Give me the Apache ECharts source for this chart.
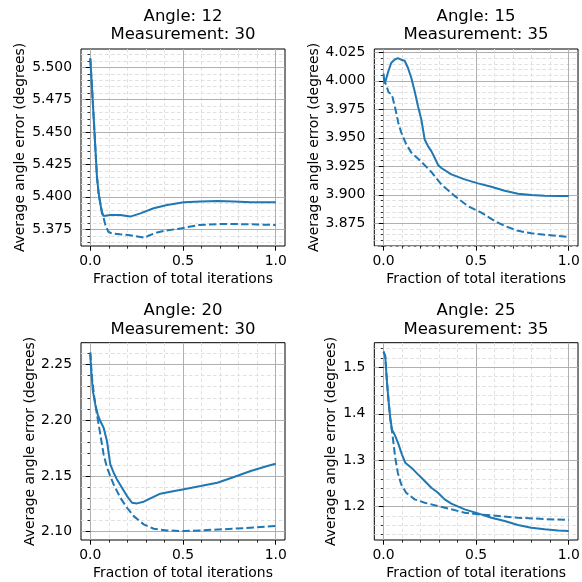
<!DOCTYPE html>
<html>
<head>
<meta charset="utf-8">
<script src="https://cdn.jsdelivr.net/npm/echarts@6/dist/echarts.min.js"></script>
<style>html,body{margin:0;padding:0;background:#fff}#c{width:582px;height:582px}</style>
</head>
<body>
<div id="c"></div>
<script>
// ---- data ----
const titles = ["Angle: 12\nMeasurement: 30", "Angle: 15\nMeasurement: 35", "Angle: 20\nMeasurement: 30", "Angle: 25\nMeasurement: 35"];
const xLabel = "Fraction of total iterations";
const yLabel = "Average angle error (degrees)";
const xTicks = [0.0, 0.5, 1.0];

const p1SolidX = [0, .009, .018, .027, .036, .045, .054, .063, .072, .108, .162, .216, .27, .342, .414, .505, .595, .685, .775, .865, 1.0];
const p1SolidY = [5.5069, 5.4851, 5.4619, 5.4388, 5.4156, 5.4028, 5.3951, 5.3873, 5.3853, 5.386, 5.386, 5.3848, 5.3873, 5.3912, 5.3938, 5.3958, 5.3964, 5.3969, 5.3964, 5.3958, 5.3958];
const p1DashX = [0, .009, .018, .027, .036, .045, .054, .063, .08, .097, .115, .16, .205, .296, .313, .36, .403, .494, .584, .692, .80, .9, 1.0];
const p1DashY = [5.5069, 5.4851, 5.4619, 5.4388, 5.4156, 5.4028, 5.3951, 5.389, 5.379, 5.3731, 5.3719, 5.3712, 5.3706, 5.3685, 5.3700, 5.3725, 5.3739, 5.3758, 5.3783, 5.379, 5.379, 5.3787, 5.3783];
const p1YTicks = [5.375, 5.400, 5.425, 5.450, 5.475, 5.500];

const p2SolidX = [0, .005, .01, .023, .041, .059, .077, .095, .114, .132, .15, .168, .186, .204, .222, .24, .258, .276, .294, .312, .366, .438, .51, .582, .654, .726, .798, .87, .942, 1.0];
const p2SolidY = [4.0065, 3.9975, 3.9995, 4.0069, 4.0157, 4.0186, 4.0200, 4.0186, 4.0177, 4.0113, 4.0025, 3.9909, 3.9777, 3.9661, 3.9485, 3.9427, 3.9383, 3.9325, 3.9262, 3.9235, 3.9179, 3.9135, 3.910, 3.9071, 3.9035, 3.9008, 3.8997, 3.8991, 3.8989, 3.8989];
const p2DashX = [0, .008, .015, .027, .045, .063, .08, .095, .108, .122, .15, .204, .258, .312, .384, .456, .528, .6, .654, .726, .798, .87, .942, 1.0];
const p2DashY = [4.003, 3.999, 3.996, 3.990, 3.988, 3.976, 3.963, 3.955, 3.950, 3.9445, 3.937, 3.929, 3.920, 3.909, 3.899, 3.890, 3.8843, 3.877, 3.8727, 3.8683, 3.8662, 3.8648, 3.8639, 3.863];
const p2YTicks = [3.875, 3.900, 3.925, 3.950, 3.975, 4.000, 4.025];

const p3SolidX = [0, .004, .014, .027, .04, .054, .072, .09, .108, .126, .144, .171, .198, .225, .252, .288, .324, .378, .432, .505, .595, .685, .775, .865, .955, 1.0];
const p3SolidY = [2.2605, 2.247, 2.226, 2.2141, 2.2052, 2.1992, 2.1932, 2.1813, 2.1604, 2.1529, 2.1469, 2.1394, 2.132, 2.126, 2.1254, 2.1269, 2.1299, 2.1341, 2.1359, 2.138, 2.1409, 2.1439, 2.149, 2.1544, 2.1589, 2.161];
const p3DashX = [0, .009, .022, .036, .054, .072, .09, .126, .162, .198, .234, .288, .342, .414, .505, .595, .775, 1.0];
const p3DashY = [2.2605, 2.238, 2.2201, 2.2052, 2.1873, 2.1693, 2.1574, 2.1424, 2.1305, 2.1215, 2.114, 2.1066, 2.1027, 2.1012, 2.1006, 2.1012, 2.1027, 2.1051];
const p3YTicks = [2.10, 2.15, 2.20, 2.25];

const p4SolidX = [0, .009, .018, .027, .036, .045, .063, .081, .099, .117, .15, .186, .222, .258, .294, .33, .366, .438, .51, .582, .654, .726, .798, .87, .942, 1.0];
const p4SolidY = [1.5337, 1.5244, 1.4706, 1.4275, 1.3916, 1.3665, 1.3522, 1.3342, 1.3127, 1.2947, 1.284, 1.2696, 1.2553, 1.2409, 1.2301, 1.2158, 1.2065, 1.1943, 1.1857, 1.1763, 1.1691, 1.1605, 1.1548, 1.1512, 1.149, 1.1476];
const p4DashX = [0, .009, .018, .027, .036, .05, .063, .077, .095, .122, .168, .222, .294, .366, .438, .51, .582, .726, .87, 1.0];
const p4DashY = [1.5337, 1.5244, 1.4706, 1.4275, 1.3900, 1.3486, 1.3055, 1.2732, 1.2481, 1.2301, 1.2158, 1.2086, 1.2014, 1.1943, 1.1871, 1.1835, 1.1813, 1.1763, 1.1734, 1.1713];
const p4YTicks = [1.2, 1.3, 1.4, 1.5];

// ---- layout / style ----
const FONT = "DejaVu Sans";
const BLUE = "#1f77b4";
const panels = [
  {sx:p1SolidX, sy:p1SolidY, dx:p1DashX, dy:p1DashY, yt:p1YTicks, ymin:5.3621, ymax:5.5141, ystep:0.005, dec:3, box:[81,49,204,197], cx:183, ty:7, gap:53.5},
  {sx:p2SolidX, sy:p2SolidY, dx:p2DashX, dy:p2DashY, yt:p2YTicks, ymin:3.855, ymax:4.028, ystep:0.005, dec:3, box:[374.3,49,203.7,197], cx:476, ty:7, gap:52.5},
  {sx:p3SolidX, sy:p3SolidY, dx:p3DashX, dy:p3DashY, yt:p3YTicks, ymin:2.0926, ymax:2.2694, ystep:0.01, dec:2, box:[81,342.7,204,197.3], cx:183, ty:301.5, gap:43.5},
  {sx:p4SolidX, sy:p4SolidY, dx:p4DashX, dy:p4DashY, yt:p4YTicks, ymin:1.1283, ymax:1.553, ystep:0.02, dec:1, box:[374.3,342.7,203.7,197.3], cx:476, ty:301.5, gap:35.5}
];

function minorVals(lo, hi, step, majors) {
  const out = [];
  const k0 = Math.ceil(lo / step - 1e-9), k1 = Math.floor(hi / step + 1e-9);
  for (let k = k0; k <= k1; k++) {
    const v = +(k * step).toFixed(6);
    if (!majors.some(m => Math.abs(m - v) < step / 10)) out.push(v);
  }
  return out;
}
const xMinor = minorVals(-0.05, 1.05, 0.1, xTicks);

const grid = [], xAxis = [], yAxis = [], series = [], title = [];
const txt = {fontFamily: FONT, fontSize: 13.9, color: "#000"};
panels.forEach((p, i) => {
  grid.push({left:p.box[0], top:p.box[1], width:p.box[2], height:p.box[3], show:true, borderColor:"#000", borderWidth:1, backgroundColor:"transparent", containLabel:false, outerBoundsMode:"none"});
  title.push({text: titles[i], left: p.cx, top: p.ty, textAlign: "center", padding: 0,
    textStyle: {fontFamily: FONT, fontSize: 16.5, fontWeight: "normal", color: "#000", lineHeight: 18.5}});
  // major x
  xAxis.push({type:"value", gridIndex:i, min:-0.05, max:1.05, position:"bottom", z:3,
    axisLine:{show:false},
    axisTick:{show:true, length:4.7, customValues:xTicks, lineStyle:{color:"#000", width:1}},
    axisLabel:{show:true, customValues:xTicks, margin:8.5, formatter:v => (+v).toFixed(1), ...txt},
    splitLine:{show:true, lineStyle:{color:"#b0b0b0", width:1, type:"solid"}},
    name:xLabel, nameLocation:"middle", nameGap:26.5, nameTextStyle:txt});
  // minor x
  xAxis.push({type:"value", gridIndex:i, min:-0.05, max:1.05, position:"bottom", z:1,
    axisLine:{show:false},
    axisTick:{show:true, length:2.7, customValues:xMinor, lineStyle:{color:"#000", width:0.8}},
    axisLabel:{show:false, customValues:xMinor},
    splitLine:{show:true, lineStyle:{color:"#e0e0e0", width:1, type:[3.5,2.5]}}});
  const yMinor = minorVals(p.ymin, p.ymax, p.ystep, p.yt);
  yAxis.push({type:"value", gridIndex:i, min:p.ymin, max:p.ymax, position:"left", z:3,
    axisLine:{show:false},
    axisTick:{show:true, length:4.7, customValues:p.yt, lineStyle:{color:"#000", width:1}},
    axisLabel:{show:true, customValues:p.yt, margin:9, formatter:v => (+v).toFixed(p.dec), ...txt},
    splitLine:{show:true, lineStyle:{color:"#b0b0b0", width:1, type:"solid"}},
    name:yLabel, nameLocation:"middle", nameGap:p.gap, nameRotate:90, nameTextStyle:txt});
  yAxis.push({type:"value", gridIndex:i, min:p.ymin, max:p.ymax, position:"left", z:1,
    axisLine:{show:false},
    axisTick:{show:true, length:2.7, customValues:yMinor, lineStyle:{color:"#000", width:0.8}},
    axisLabel:{show:false, customValues:yMinor},
    splitLine:{show:true, lineStyle:{color:"#e0e0e0", width:1, type:[3.5,2.5]}}});
  series.push({type:"line", xAxisIndex:2*i, yAxisIndex:2*i, data:p.dx.map((x, k) => [x, p.dy[k]]),
    showSymbol:false, symbol:"none", z:5, lineStyle:{color:BLUE, width:2, type:[7.5,3.2]}, animation:false});
  series.push({type:"line", xAxisIndex:2*i, yAxisIndex:2*i, data:p.sx.map((x, k) => [x, p.sy[k]]),
    showSymbol:false, symbol:"none", z:6, lineStyle:{color:BLUE, width:2, type:"solid"}, animation:false});
});

const chart = echarts.init(document.getElementById("c"), null, {renderer: "canvas"});
chart.setOption({animation:false, backgroundColor:"#fff", title, grid, xAxis, yAxis, series});
</script>
</body>
</html>
